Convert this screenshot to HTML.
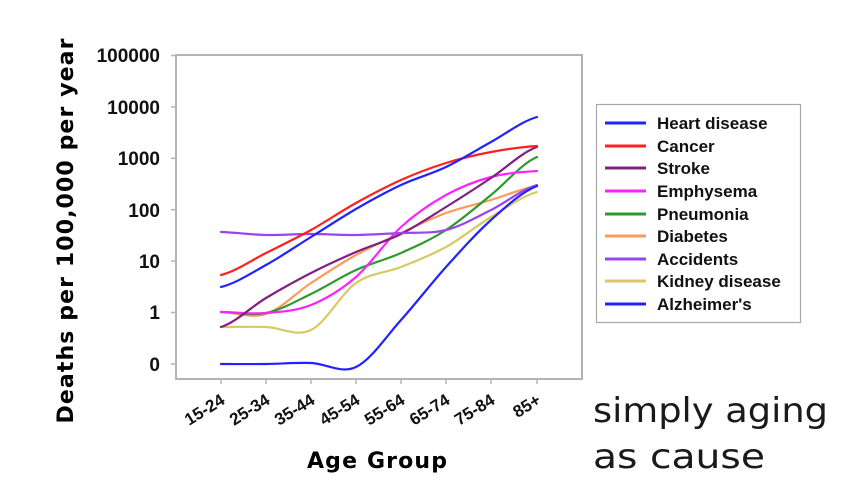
<!DOCTYPE html>
<html>
<head>
<meta charset="utf-8">
<style>
html,body{margin:0;padding:0;background:#fff;}
svg{display:block;}
</style>
</head>
<body>
<svg width="850" height="504" viewBox="0 0 850 504" xmlns="http://www.w3.org/2000/svg">
<rect width="850" height="504" fill="#fff"/>
<!-- plot frame -->
<rect x="176" y="55" width="406" height="324" fill="none" stroke="#b4b4b4" stroke-width="2"/>
<!-- y ticks -->
<g stroke="#b4b4b4" stroke-width="1.5">
<line x1="171" y1="55.5" x2="176" y2="55.5"/>
<line x1="171" y1="106.9" x2="176" y2="106.9"/>
<line x1="171" y1="158.3" x2="176" y2="158.3"/>
<line x1="171" y1="209.7" x2="176" y2="209.7"/>
<line x1="171" y1="261.1" x2="176" y2="261.1"/>
<line x1="171" y1="312.5" x2="176" y2="312.5"/>
<line x1="171" y1="364" x2="176" y2="364"/>
<!-- x ticks -->
<line x1="221" y1="379" x2="221" y2="384"/>
<line x1="266" y1="379" x2="266" y2="384"/>
<line x1="311" y1="379" x2="311" y2="384"/>
<line x1="356" y1="379" x2="356" y2="384"/>
<line x1="401" y1="379" x2="401" y2="384"/>
<line x1="446" y1="379" x2="446" y2="384"/>
<line x1="491" y1="379" x2="491" y2="384"/>
<line x1="537" y1="379" x2="537" y2="384"/>
</g>
<!-- y tick labels -->
<g font-family="Liberation Sans, Arial, sans-serif" font-weight="bold" font-size="19" fill="#111" text-anchor="end">
<text x="160" y="62">100000</text>
<text x="160" y="114">10000</text>
<text x="160" y="165">1000</text>
<text x="160" y="217">100</text>
<text x="160" y="268">10</text>
<text x="160" y="319">1</text>
<text x="160" y="371">0</text>
</g>
<!-- x tick labels -->
<g font-family="Liberation Sans, Arial, sans-serif" font-weight="bold" font-size="17" fill="#111" text-anchor="end">
<text transform="translate(226,403) rotate(-32)">15-24</text>
<text transform="translate(271,403) rotate(-32)">25-34</text>
<text transform="translate(316,403) rotate(-32)">35-44</text>
<text transform="translate(361,403) rotate(-32)">45-54</text>
<text transform="translate(406,403) rotate(-32)">55-64</text>
<text transform="translate(451,403) rotate(-32)">65-74</text>
<text transform="translate(496,403) rotate(-32)">75-84</text>
<text transform="translate(542,403) rotate(-32)">85+</text>
</g>
<!-- axis titles -->
<text transform="translate(73,231) rotate(-90)" text-anchor="middle" font-family="DejaVu Sans, sans-serif" font-weight="bold" font-size="22" fill="#000" textLength="385" lengthAdjust="spacing">Deaths per 100,000 per year</text>
<text x="377" y="468" text-anchor="middle" font-family="DejaVu Sans, sans-serif" font-weight="bold" font-size="22" fill="#000" textLength="140" lengthAdjust="spacing">Age Group</text>
<!-- series -->
<g fill="none" stroke-width="2.2" stroke-linecap="round" stroke-linejoin="round">
<path stroke="#d8c868" d="M221,327 C236,327 251,326.5 266,327 C281,327.5 296,337.3 311,330 C326,322.7 341,293.5 356,283 C371,272.5 386,273 401,267 C416,261 431,255.3 446,247 C461,238.7 476,226.2 491,217 C506,207.8 522,196.2 537,192"/>
<path stroke="#ff9a5a" d="M221,312 C236,312.3 251,318.8 266,314 C281,309.2 296,292.8 311,283 C326,273.2 341,263.3 356,255 C371,246.7 386,240 401,233 C416,226 431,218.5 446,213 C461,207.5 476,204.5 491,200 C506,195.5 522,188.3 537,186"/>
<path stroke="#2e9a2e" d="M221,312 C236,312.2 251,316 266,313 C281,310 296,301.2 311,294 C326,286.8 341,276.8 356,270 C371,263.2 386,259.7 401,253 C416,246.3 431,239.7 446,230 C461,220.3 476,207.2 491,195 C506,182.8 522,163.3 537,157"/>
<path stroke="#ff22ff" d="M221,312 C236,312.2 251,314.2 266,313 C281,311.8 296,311 311,305 C326,299 341,290 356,277 C371,264 386,240.7 401,227 C416,213.3 431,203.3 446,195 C461,186.7 476,181 491,177 C506,173 522,172 537,171"/>
<path stroke="#802080" d="M221,327 C236,322.2 251,307 266,298 C281,289 296,280.7 311,273 C326,265.3 341,258.5 356,252 C371,245.5 386,241.5 401,234 C416,226.5 431,216.3 446,207 C461,197.7 476,188 491,178 C506,168 522,152.2 537,147"/>
<path stroke="#9a44f0" d="M221,232 C236,232.5 251,234.7 266,235 C281,235.3 296,234 311,234 C326,234 341,235.2 356,235 C371,234.8 386,233.8 401,233 C416,232.2 431,233.8 446,230 C461,226.2 476,217.5 491,210 C506,202.5 522,189.2 537,185"/>
<path stroke="#2222ff" d="M221,364 C236,364 251,364.2 266,364 C281,363.8 296,362.5 311,363 C326,363.5 341,374.2 356,367 C371,359.8 386,336.7 401,320 C416,303.3 431,283.7 446,267 C461,250.3 476,233.5 491,220 C506,206.5 522,191.7 537,186"/>
<path stroke="#ff2020" d="M221,275 C236,271.3 251,260.5 266,253 C281,245.5 296,238.3 311,230 C326,221.7 341,211.3 356,203 C371,194.7 386,186.7 401,180 C416,173.3 431,167.7 446,163 C461,158.3 476,154.8 491,152 C506,149.2 522,147 537,146"/>
<path stroke="#2222ff" d="M221,287 C236,283.3 251,273.3 266,265 C281,256.7 296,246.3 311,237 C326,227.7 341,217.7 356,209 C371,200.3 386,192 401,185 C416,178 431,174.2 446,167 C461,159.8 476,150.3 491,142 C506,133.7 522,121.2 537,117"/>
</g>
<!-- legend -->
<rect x="596.5" y="104.5" width="204" height="218" fill="#fff" stroke="#a8a8a8" stroke-width="1.2"/>
<g stroke-width="3">
<line x1="605" y1="123" x2="646" y2="123" stroke="#2222ff"/>
<line x1="605" y1="146" x2="646" y2="146" stroke="#ff2020"/>
<line x1="605" y1="168" x2="646" y2="168" stroke="#802080"/>
<line x1="605" y1="191" x2="646" y2="191" stroke="#ff22ff"/>
<line x1="605" y1="214" x2="646" y2="214" stroke="#2e9a2e"/>
<line x1="605" y1="236" x2="646" y2="236" stroke="#ff9a5a"/>
<line x1="605" y1="259" x2="646" y2="259" stroke="#9a44f0"/>
<line x1="605" y1="281" x2="646" y2="281" stroke="#d8c868"/>
<line x1="605" y1="304" x2="646" y2="304" stroke="#2222ff"/>
</g>
<g font-family="Liberation Sans, Arial, sans-serif" font-weight="bold" font-size="17" fill="#111">
<text x="657" y="129">Heart disease</text>
<text x="657" y="152">Cancer</text>
<text x="657" y="174">Stroke</text>
<text x="657" y="197">Emphysema</text>
<text x="657" y="220">Pneumonia</text>
<text x="657" y="242">Diabetes</text>
<text x="657" y="265">Accidents</text>
<text x="657" y="287">Kidney disease</text>
<text x="657" y="310">Alzheimer's</text>
</g>
<!-- annotation -->
<g font-family="DejaVu Sans, sans-serif" font-size="34" fill="#1a1a1a">
<text x="593" y="422" textLength="235" lengthAdjust="spacingAndGlyphs">simply aging</text>
<text x="593" y="468" textLength="172" lengthAdjust="spacingAndGlyphs">as cause</text>
</g>
</svg>
</body>
</html>
